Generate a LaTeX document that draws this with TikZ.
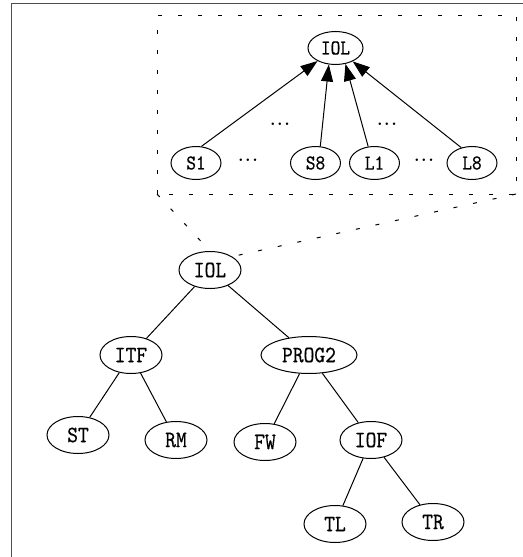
\documentclass[tikz,border=0pt]{standalone}
\usepackage{fontspec}
\usetikzlibrary{shapes.geometric,arrows.meta}
\newfontfamily\labelfont{lmmono10-regular.otf}[FakeStretch=0.87,FakeBold=0.4]
\begin{document}
\begin{tikzpicture}[x=0.5pt,y=-0.5pt,
  treenode/.style={draw,ellipse,inner sep=0pt,line width=0.5pt,
    font=\labelfont\fontsize{11.8}{13}\selectfont,
    minimum width=31pt,minimum height=18.5pt},
  zoomnode/.style={draw,ellipse,inner sep=0pt,line width=0.5pt,
    font=\labelfont\fontsize{10.6}{12}\selectfont,
    minimum width=25pt,minimum height=16.5pt},
  dotslabel/.style={inner sep=0pt,font=\rmfamily\fontsize{13}{14}\selectfont},
  treeedge/.style={line width=0.5pt},
  depedge/.style={line width=0.5pt,-{Triangle[length=8.5pt,width=6pt]}},
  zoomframe/.style={line width=0.5pt,dash pattern=on 2pt off 8pt},
  frameline/.style={line width=0.8pt,black!70}]
\useasboundingbox (0,0) rectangle (523,557);

% outer frame (top and left edges)
\draw[frameline] (11.5,557) -- (11.5,3.5) -- (523,3.5);

% magnified view: dependencies of IOL
\coordinate (zbl) at (157,194);
\coordinate (zbr) at (516,194);
\draw[zoomframe] (zbl) rectangle (516,15);

\node[zoomnode,minimum width=27.5pt] (IOLt) at (335.5,48) {IOL};
\node[zoomnode] (S1) at (196,163) {S1};
\node[zoomnode] (S8) at (315.5,163) {S8};
\node[zoomnode] (L1) at (374.5,163) {L1};
\node[zoomnode] (L8) at (472,163) {L8};

\node[dotslabel] (d1) at (248,160) {...};
\node[dotslabel] (d2) at (424,160) {...};
\node[dotslabel] (d3) at (280,124) {...};
\node[dotslabel] (d4) at (387,124) {...};

\draw[depedge] (S1.72) -- (IOLt.216);
\draw[depedge] (S8.74) -- (IOLt.248);
\draw[depedge] (L1.111) -- (IOLt.302);
\draw[depedge] (L8.125) -- (IOLt.322);

% module tree
\node[treenode] (IOL) at (210,270) {IOL};
\node[treenode] (ITF) at (131,355) {ITF};
\node[treenode,minimum width=48pt] (PROG2) at (309,355) {PROG2};
\node[treenode] (ST) at (78,435) {ST};
\node[treenode] (RM) at (176,440) {RM};
\node[treenode] (FW) at (265,442) {FW};
\node[treenode] (IOF) at (371,440) {IOF};
\node[treenode] (TL) at (335,524) {TL};
\node[treenode] (TR) at (433,522) {TR};

\draw[treeedge] (IOL) -- (ITF);
\draw[treeedge] (IOL) -- (PROG2);
\draw[treeedge] (ITF) -- (ST);
\draw[treeedge] (ITF) -- (RM);
\draw[treeedge] (PROG2) -- (FW);
\draw[treeedge] (PROG2) -- (IOF);
\draw[treeedge] (IOF) -- (TL);
\draw[treeedge] (IOF) -- (TR);

% lines linking the magnified view to its node
\draw[zoomframe] (zbl) -- (IOL.north);
\draw[zoomframe] (zbr) -- (IOL.north east);
\end{tikzpicture}
\end{document}
